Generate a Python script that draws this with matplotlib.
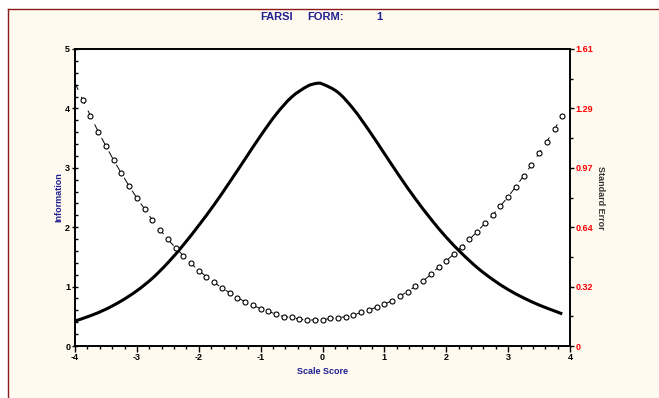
import numpy as np
import matplotlib
matplotlib.use("Agg")
import matplotlib.pyplot as plt
from matplotlib.ticker import MultipleLocator
from matplotlib.path import Path
from matplotlib.patches import PathPatch

plt.rcParams['font.family'] = ['Liberation Sans Narrow', 'Liberation Sans', 'DejaVu Sans']
plt.rcParams['lines.scale_dashes'] = False
plt.rcParams['axes.unicode_minus'] = False

# Information curve
info_x = [-4.0, -3.75, -3.5, -3.25, -3.0, -2.75, -2.5, -2.25, -2.0, -1.75, -1.5, -1.25,
          -1.0, -0.75, -0.5, -0.25, -0.1, 0.0, 0.25, 0.5, 0.75, 1.0, 1.25, 1.5, 1.75,
          2.0, 2.25, 2.5, 2.75, 3.0, 3.25, 3.5, 3.75, 3.875]
info_y = [0.42, 0.51, 0.62, 0.76, 0.93, 1.14, 1.40, 1.70, 2.03, 2.38, 2.76, 3.15,
          3.54, 3.90, 4.19, 4.37, 4.42, 4.41, 4.27, 3.99, 3.63, 3.24, 2.85, 2.48, 2.14,
          1.83, 1.56, 1.32, 1.12, 0.95, 0.81, 0.69, 0.59, 0.54]

# Standard error (right axis), every 0.125
se_x = np.arange(-4.0, 3.876, 0.125)
se_y = [1.426, 1.334, 1.248, 1.162, 1.084, 1.007, 0.936, 0.867, 0.802, 0.743, 0.683,
        0.630, 0.578, 0.533, 0.490, 0.448, 0.409, 0.376, 0.345, 0.314, 0.289, 0.262,
        0.240, 0.221, 0.202, 0.188, 0.172, 0.159, 0.156, 0.145, 0.141, 0.141, 0.141,
        0.150, 0.153, 0.159, 0.166, 0.183, 0.195, 0.211, 0.226, 0.246, 0.271, 0.295,
        0.323, 0.352, 0.388, 0.428, 0.462, 0.499, 0.538, 0.578, 0.620, 0.665, 0.710,
        0.759, 0.809, 0.864, 0.922, 0.981, 1.045, 1.108, 1.175, 1.247]

se_ticks = [0, 0.322, 0.644, 0.966, 1.288, 1.61]
se_labels = ['0', '0.32', '0.64', '0.97', '1.29', '1.61']

navy = '#1f1f8f'
cream = '#fffaf0'


def smooth_path(xs, ys):
    # Catmull-Rom through the points, drawn as cubic Bezier segments
    p = np.column_stack([xs, ys]).astype(float)
    verts = [p[0]]
    codes = [Path.MOVETO]
    for i in range(len(p) - 1):
        p0 = p[i - 1] if i > 0 else p[i]
        p3 = p[i + 2] if i + 2 < len(p) else p[i + 1]
        p1, p2 = p[i], p[i + 1]
        c1 = p1 + (p2 - p0) / 6
        c2 = p2 - (p3 - p1) / 6
        verts += [c1, c2, p2]
        codes += [Path.CURVE4] * 3
    return Path(verts, codes)


fig = plt.figure(figsize=(6.59, 3.98), dpi=100)
fig.patch.set_facecolor('white')
# cream panel with dark red frame on top and left
fig.patches.append(plt.Rectangle((8/659, 0), 1, 1 - 9/398, transform=fig.transFigure,
                                 facecolor=cream, edgecolor='none', zorder=-10))
fig.lines.append(plt.Line2D([8/659, 8/659], [0, 1 - 9/398], transform=fig.transFigure,
                            color='#8b1a1a', lw=1, zorder=-5))
fig.lines.append(plt.Line2D([8/659, 1], [1 - 9/398, 1 - 9/398], transform=fig.transFigure,
                            color='#8b1a1a', lw=1, zorder=-5))

ax = fig.add_axes([75/659, 52/398, 495/659, 297/398])
ax.set_facecolor('white')
ax.set_xlim(-4, 4)
ax.set_ylim(0, 5)
ax.add_patch(PathPatch(smooth_path(info_x, info_y), facecolor='none', edgecolor='black',
                       lw=2.2, capstyle='butt', zorder=3))

ax2 = ax.twinx()
ax2.set_ylim(0, 1.61)
ax2.plot(se_x, se_y[:len(se_x)], color='black', lw=0.7, linestyle=(0, (5.5, 5.5)),
         marker='o', markersize=3.6, markerfacecolor='white', markeredgecolor='black',
         markeredgewidth=0.8, markevery=list(range(1, len(se_x))))

ax.xaxis.set_major_locator(MultipleLocator(1))
ax.xaxis.set_minor_locator(MultipleLocator(0.2))
ax.yaxis.set_major_locator(MultipleLocator(1))
ax.yaxis.set_minor_locator(MultipleLocator(0.2))
ax.tick_params(axis='x', which='major', direction='out', length=4, width=1, pad=1,
               labelsize=6.5)
ax.tick_params(axis='x', which='minor', direction='out', length=2.5, width=1)
ax.tick_params(axis='y', which='major', direction='inout', length=5, width=1, pad=1,
               labelsize=6.5)
ax.tick_params(axis='y', which='minor', direction='in', length=2.5, width=1)
for lab in ax.get_xticklabels() + ax.get_yticklabels():
    lab.set_fontweight('bold')

ax2.set_yticks(se_ticks)
ax2.set_yticklabels(se_labels, color='red', fontweight='bold', fontsize=6.5)
ax2.set_yticks([(a + b) / 2 for a, b in zip(se_ticks[:-1], se_ticks[1:])], minor=True)
ax2.tick_params(axis='y', which='major', direction='out', length=3, width=1, pad=1)
ax2.tick_params(axis='y', which='minor', direction='out', length=2, width=1)

for a in (ax, ax2):
    for s in a.spines.values():
        s.set_linewidth(1.2)

ax.set_xlabel('Scale Score', color=navy, fontweight='bold', fontsize=6.5, labelpad=4)
ax.set_ylabel('Information', color=navy, fontweight='bold', fontsize=6.5, labelpad=1.5)
ax2.set_ylabel('Standard Error', color='#333333', fontweight='bold', fontsize=6.5,
               rotation=-90, labelpad=8)

fig.text(277/659, 1 - 17/398, 'FARSI', color=navy, fontweight='bold', fontsize=8,
         ha='center', va='center')
fig.text(326/659, 1 - 17/398, 'FORM:', color=navy, fontweight='bold', fontsize=8,
         ha='center', va='center')
fig.text(379/659, 1 - 17/398, '1', color=navy, fontweight='bold', fontsize=8,
         ha='center', va='center')

fig.savefig('out.png', dpi=100, facecolor=fig.get_facecolor())
